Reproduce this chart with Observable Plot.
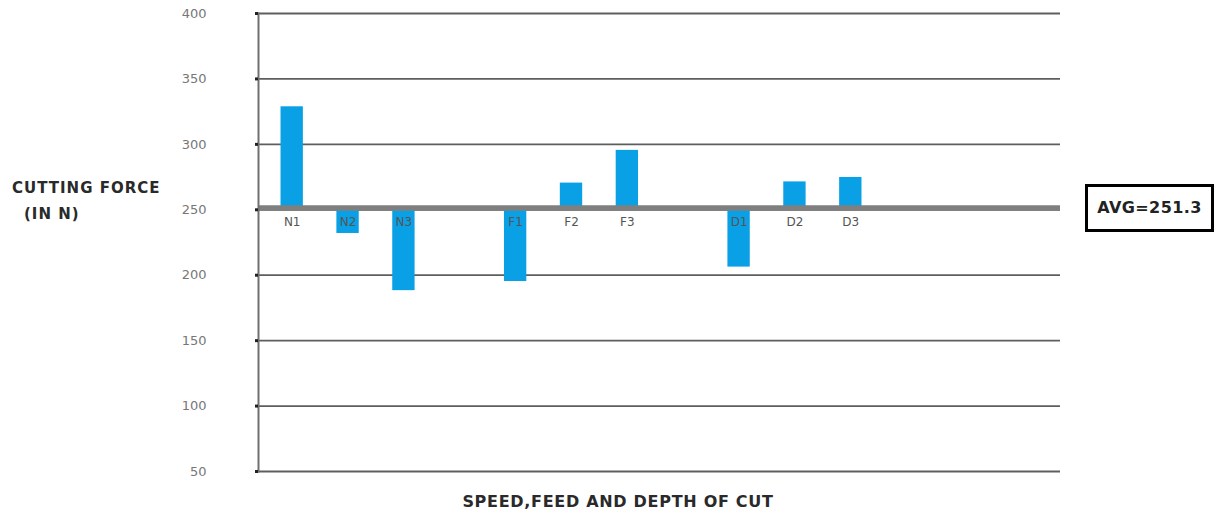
<!DOCTYPE html>
<html>
<head>
<meta charset="utf-8">
<script src="https://cdn.jsdelivr.net/npm/d3@7"></script>
<script src="https://cdn.jsdelivr.net/npm/@observablehq/plot@0.6"></script>
<style>
  body { margin: 0; background: #fff; }
  #wrap { position: relative; width: 1214px; height: 515px; overflow: hidden; font-family: "DejaVu Sans", sans-serif; }
  #chart { position: absolute; left: 0; top: 0; }
  .ytitle { position: absolute; font-weight: bold; font-size: 15px; color: #2a2a2a; white-space: nowrap; letter-spacing: 1px; }
  .xtitle { position: absolute; left: 0; width: 1236px; text-align: center; top: 492px; font-weight: bold; font-size: 16px; color: #2a2a2a; letter-spacing: 0.7px; }
  #avgbox { position: absolute; left: 1085px; width: 123px; height: 42px; border: 3px solid #000; display: flex; align-items: center; justify-content: center; font-weight: bold; font-size: 16px; color: #222; letter-spacing: 0.4px; box-sizing: content-box; }
</style>
</head>
<body>
<div id="wrap">
  <div id="chart"></div>
  <div class="ytitle" style="left:12px; top:179px;">CUTTING FORCE</div>
  <div class="ytitle" style="left:24px; top:205px;">(IN N)</div>
  <div class="xtitle">SPEED,FEED AND DEPTH OF CUT</div>
  <div id="avgbox">AVG=251.3</div>
</div>
<script>
// ---- data ----
const categories = ["N1", "N2", "N3", "F1", "F2", "F3", "D1", "D2", "D3"];
const groups = ["N", "N", "N", "F", "F", "F", "D", "D", "D"];
const forces = [328.7, 231.9, 188.2, 195.2, 270.4, 295.4, 206.2, 271.3, 274.7];
const average = 251.3;
const yTicks = [50, 100, 150, 200, 250, 300, 350, 400];

// table built from the arrays
const data = categories.map((c, i) => ({cat: c, group: groups[i], force: forces[i]}));

// x domain: categories with an empty slot between groups
const xDomain = [];
categories.forEach((c, i) => {
  if (i > 0 && groups[i] !== groups[i - 1]) xDomain.push(" ".repeat(xDomain.length));
  xDomain.push(c);
});

const chart = Plot.plot({
  width: 1214,
  height: 515,
  marginLeft: 258,
  marginRight: 154,
  marginTop: 13,
  marginBottom: 44,
  style: {fontFamily: "'DejaVu Sans', sans-serif", background: "transparent", overflow: "visible"},
  x: {type: "band", domain: xDomain, range: [247, 895], padding: 0.6, round: false, axis: null},
  y: {domain: [50, 400], axis: null},
  marks: [
    Plot.ruleY(yTicks, {stroke: "#5e5e5e", strokeWidth: 1.8}),
    Plot.barY(data, {x: "cat", y1: average, y2: "force", fill: "#0aa0e6"}),
    Plot.ruleY([average], {stroke: "#7f7f7f", strokeWidth: 5.5}),
    Plot.text(data, {x: "cat", y: average, dy: 14, text: "cat", fill: "#555", fontSize: 12}),
    Plot.frame({anchor: "left", stroke: "#707070", strokeWidth: 2}),
    Plot.axisY(yTicks, {label: null, tickSize: 3, tickPadding: 49, fontSize: 13, color: "#777", stroke: "#222", strokeWidth: 3})
  ]
});
document.getElementById("chart").appendChild(chart);

// place the average box at the average line
const yAvg = chart.scale("y").apply(average);
document.getElementById("avgbox").style.top = (yAvg - 24) + "px";
</script>
</body>
</html>
